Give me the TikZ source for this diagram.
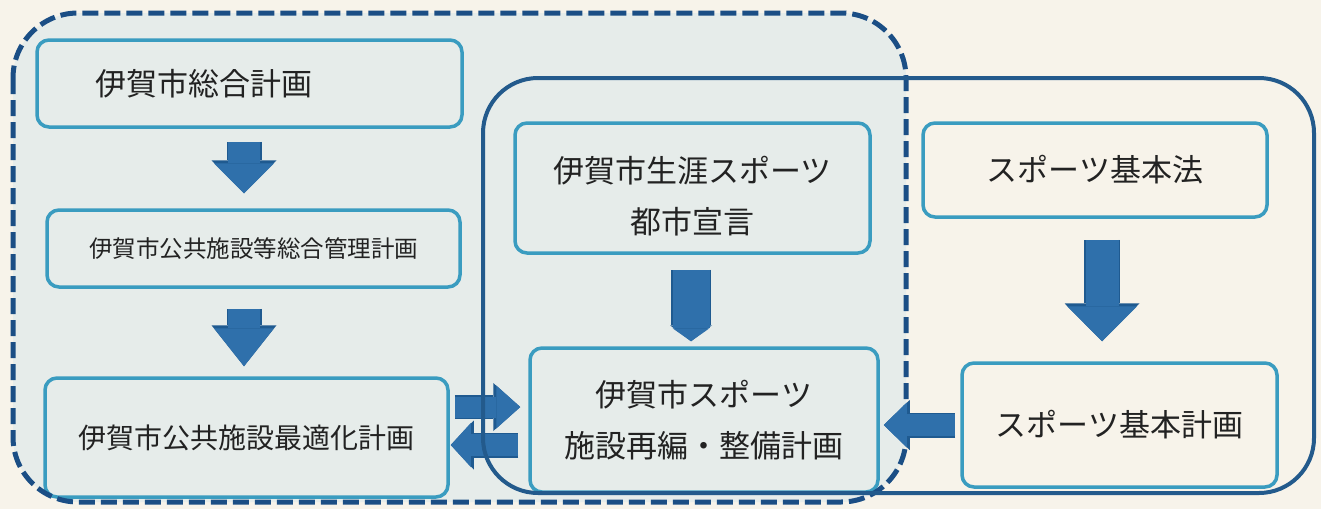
\documentclass[tikz,border=0pt]{standalone}
\usepackage{fontspec}
\setmainfont{Noto Sans CJK JP}
\usetikzlibrary{arrows.meta}
\usetikzlibrary{positioning}

\definecolor{paper}{HTML}{F7F3EA}
\definecolor{region}{HTML}{E6ECEA}
\definecolor{planline}{HTML}{3A9CC0}
\definecolor{dashline}{HTML}{1B4E85}
\definecolor{sportline}{HTML}{235A8C}
\definecolor{flowblue}{HTML}{2F70AB}
\definecolor{flowdark}{HTML}{1F5A90}
\definecolor{ink}{HTML}{222222}

\begin{document}
\begin{tikzpicture}[x=1pt, y=-1pt,
    plan/.style={draw=planline, line width=3.5pt, rounded corners=12pt, align=center,
      text=ink, inner sep=0pt, font=\fontsize{31}{51}\selectfont},
    flow/.style n args={3}{preaction={draw=flowdark, line width=#1+3pt,
      -{Triangle[width=#2+5pt, length=#3+3pt, line width=0pt]}},
      draw=flowblue, line width=#1, -{Triangle[width=#2, length=#3, line width=0pt]}}]
    \useasboundingbox (0,0) rectangle (1321,509);
    \fill[paper] (0,0) rectangle (1321,509);
    \fill[region, rounded corners=65pt] (13,13) rectangle (906,502);

    % city plans (left)
    \node[plan, minimum width=425pt, minimum height=87pt, text width=309pt, align=left] (sogo) at (249.5,83.5) {伊賀市総合計画};
    \node[plan, minimum width=413pt, minimum height=77pt, font=\fontsize{23.5}{28}\selectfont] (kanri) at (253.5,248.5) {伊賀市公共施設等総合管理計画};
    \node[plan, minimum width=403pt, minimum height=119pt, font=\fontsize{28}{34}\selectfont] (saiteki) at (246.5,437.5) {伊賀市公共施設最適化計画};

    % sport plans (middle, right)
    \node[plan, minimum width=355pt, minimum height=130pt] (sengen) at (692.5,188) {\rule{0pt}{43pt}伊賀市生涯スポーツ\\都市宣言};
    \node[plan, minimum width=348pt, minimum height=144pt] (seibi) at (704,420) {伊賀市スポーツ\\施設再編・整備計画};
    \node[plan, minimum width=344pt, minimum height=94pt] (kihonho) at (1095,170) {スポーツ基本法};
    \node[plan, minimum width=315pt, minimum height=124pt] (kihonkeikaku) at (1119.5,425) {スポーツ基本計画};

    \draw[dashline, line width=5pt, dash pattern=on 16pt off 6pt, rounded corners=65pt] (13,13) rectangle (906,502);

    \draw[flow={32pt}{60pt}{30pt}, shorten <=13pt, shorten >=15pt] ([xshift=-5.5pt]sogo.south) -- ([xshift=-9.5pt]kanri.north);
    \draw[flow={32pt}{60pt}{38pt}, shorten <=20pt, shorten >=10pt] ([xshift=-9.5pt]kanri.south) -- ([xshift=-2.5pt]saiteki.north);
    \draw[flow={37pt}{37pt}{13pt}, shorten <=15pt, shorten >=5pt] ([xshift=-1.5pt]sengen.south) -- ([xshift=-13pt]seibi.north);
    \draw[flow={33pt}{70pt}{35pt}, shorten <=21pt, shorten >=20pt] ([xshift=7pt]kihonho.south) -- ([xshift=-17.5pt]kihonkeikaku.north);
    \draw[flow={22pt}{45pt}{23pt}, shorten <=5pt, shorten >=4pt] (kihonkeikaku.west) -- ([yshift=-5pt]seibi.east);
    \draw[flow={21pt}{43pt}{24pt}, shorten <=5pt, shorten >=8pt] ([yshift=30.5pt]saiteki.east) -- ([yshift=13pt]seibi.west);
    \draw[flow={22pt}{44pt}{20pt}, shorten <=10pt, shorten >=1pt] ([yshift=-25pt]seibi.west) -- ([yshift=-7.5pt]saiteki.east);

    \draw[sportline, line width=4pt, rounded corners=55pt] (483,78) rectangle (1314,493);
\end{tikzpicture}
\end{document}
